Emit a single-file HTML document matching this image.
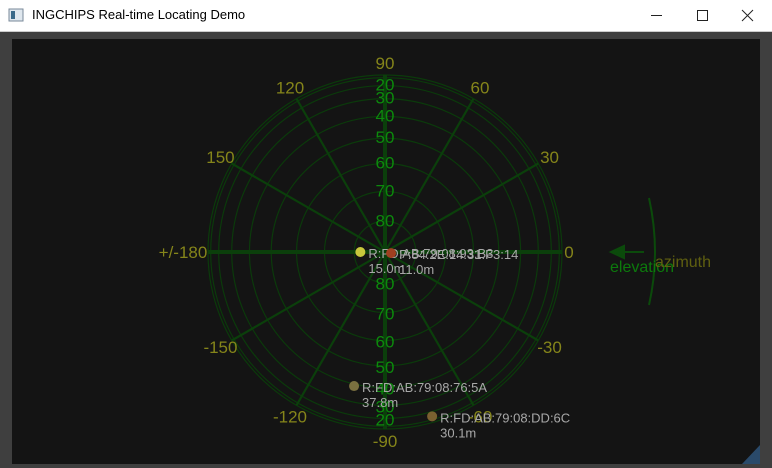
<!DOCTYPE html>
<html><head><meta charset="utf-8"><style>
body{margin:0;width:772px;height:468px;overflow:hidden;background:#3f3f3f;font-family:"Liberation Sans",sans-serif}
#title{position:absolute;left:0;top:0;width:772px;height:31px;background:#fff;border-bottom:1px solid #ccc}
#title span{position:absolute;left:32px;top:7px;font-size:13px;color:#000;font-family:"Liberation Sans","Noto Sans CJK SC",sans-serif}
#plot{position:absolute;left:12px;top:39px;width:748px;height:425px;background:#141414}
svg{position:absolute;left:0;top:0}
</style></head><body>
<div id="title">
<svg width="20" height="20" style="left:8px;top:7px"><rect x="1" y="2" width="14" height="12" fill="#dfe7ee" stroke="#7a8a99"/><rect x="3" y="4" width="4" height="8" fill="#3a6a8a"/></svg>
<span>INGCHIPS Real-time Locating Demo</span>
<svg width="140" height="31" style="left:632px;top:0">
<line x1="19" y1="15.5" x2="30" y2="15.5" stroke="#222"/>
<rect x="65.5" y="10.5" width="10" height="10" fill="none" stroke="#222"/>
<path d="M110 10 L121 21 M121 10 L110 21" stroke="#222"/>
</svg></div>
<div id="plot"></div>
<svg id="chart" width="772" height="468"></svg>
<script>
const names=["R:FD:AB:79:08:93:B3","P:84:2E:14:31:F3:14","R:FD:AB:79:08:76:5A","R:FD:AB:79:08:DD:6C"];
const azimuths=[180,-10,-103,-74];
const elevations=[82,88,39,15];
const distances=["15.0m","11.0m","37.8m","30.1m"];
const colors=["#c8c83c","#a04020","#7a7040","#7a6030"];
const azTicks=[0,30,60,90,120,150,180,-150,-120,-90,-60,-30];
const azTickLabels=["0","30","60","90","120","150","+/-180","-150","-120","-90","-60","-30"];
const elRings=[0,10,20,30,40,50,60,70,80];
const elLabels=[20,30,40,50,60,70,80];
const cx=385,cy=252,R=177;
const svg=document.getElementById('chart');
const NS="http://www.w3.org/2000/svg";
function rad(el){return R*Math.cos(el*Math.PI/180);}
function px(az,r){return cx+r*Math.cos(az*Math.PI/180);}
function py(az,r){return cy-r*Math.sin(az*Math.PI/180);}
function mk(t,a){const e=document.createElementNS(NS,t);for(const k in a)e.setAttribute(k,a[k]);svg.appendChild(e);return e;}
elRings.forEach(function(el){
 const c=mk('circle',{cx:cx,cy:cy,r:rad(el),fill:'none',stroke:'#0b3a0b','stroke-width':1.2});
 
 
});
azTicks.forEach(function(az,i){
 const thick=(az%90===0)?4:2.2;
 const l=mk('line',{x1:cx,y1:cy,x2:px(az,R),y2:py(az,R),stroke:'#0b3f0b','stroke-width':thick});
 
 
});
azTicks.forEach(function(az,i){
 let rr=190;
 if(az===0)rr=184;
 if(az===180)rr=202;
 if(az===90||az===-90)rr=189;
 const t=mk('text',{x:px(az,rr),y:py(az,rr)+6,fill:'#85851a','font-size':17,'text-anchor':'middle'});
 t.textContent=azTickLabels[i];
 
 
});
elLabels.forEach(function(el){
 [1,-1].forEach(function(s){
  const r=rad(el)+1;
  const t=mk('text',{x:cx,y:cy-s*r+6,fill:'#0c8a0c','font-size':17,'text-anchor':'middle'});
  t.textContent=el;
  
  
 });
});
names.forEach(function(n,i){
 const r=rad(elevations[i]);
 const x=px(azimuths[i],r),y=py(azimuths[i],r);
 const c=mk('circle',{cx:x,cy:y,r:5,fill:colors[i]});
 
 
 const t=mk('text',{x:x+8,y:y+6,fill:'#a8a8a8','font-size':13});
 t.textContent=n;
 
 
 const d=mk('text',{x:x+8,y:y+21,fill:'#a8a8a8','font-size':13});
 d.textContent=distances[i];
 
 
});
const arc=mk('path',{d:'M649 198 Q661 252 649 305',fill:'none',stroke:'#0b4a0b','stroke-width':2});


const ar=mk('path',{d:'M611 252 L644 252 M611 252 L624 246 L624 258 Z',stroke:'#0b4a0b',fill:'#0b4a0b','stroke-width':2});


const te=mk('text',{x:610,y:272,fill:'#0c7a0c','font-size':16});
te.textContent='elevation';


const ta=mk('text',{x:655,y:267,fill:'#5f5f10','font-size':16});
ta.textContent='azimuth';


const g=mk('path',{d:'M760 445 L760 464 L742 464 Z',fill:'#2a4a6a'});


</script>
</body></html>
